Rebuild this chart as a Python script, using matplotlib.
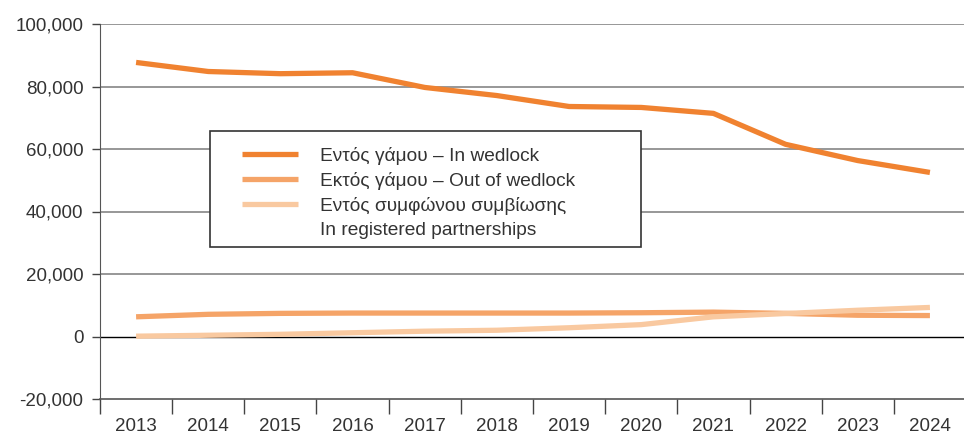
import numpy as np
import matplotlib.pyplot as plt
from matplotlib.lines import Line2D
from matplotlib.patches import Rectangle

plt.rcParams['font.family'] = ['Liberation Sans', 'DejaVu Sans']

years = ['2013', '2014', '2015', '2016', '2017', '2018', '2019', '2020',
         '2021', '2022', '2023', '2024']
in_wedlock = [87700, 84800, 84100, 84400, 79700, 77100, 73600, 73300,
              71400, 61500, 56300, 52500]
out_wedlock = [6300, 7100, 7400, 7500, 7500, 7500, 7500, 7600,
               7800, 7400, 6800, 6700]
partnership = [100, 400, 700, 1200, 1700, 2000, 2800, 3800,
               6300, 7350, 8400, 9300]

labels = ['Εντός γάμου – In wedlock',
          'Εκτός γάμου – Out of wedlock',
          'Εντός συμφώνου συμβίωσης',
          'In registered partnerships']
colors = ['#F08230', '#F5A468', '#F9C9A0']

fig = plt.figure(figsize=(9.64, 4.34), dpi=100)
ax = fig.add_axes([100 / 964, 1 - 399 / 434, 866 / 964, 375 / 434])

x = np.arange(len(years))
ax.plot(x, in_wedlock, color=colors[0], lw=3.8, solid_capstyle='butt', label=labels[0], zorder=3)
ax.plot(x, out_wedlock, color=colors[1], lw=3.8, solid_capstyle='butt', label=labels[1], zorder=3)
ax.plot(x, partnership, color=colors[2], lw=3.8, solid_capstyle='butt', label=labels[2], zorder=3)

ax.set_xlim(-0.5, len(years) - 0.5)
ax.set_ylim(-20000, 100000)
yt = np.arange(-20000, 100001, 20000)
ax.set_yticks(yt)
ax.set_yticklabels([f'{v:,}' for v in yt])
for v in yt[1:]:
    ax.axhline(v, color='black' if v == 0 else '#7a7a7a', lw=1.0 if v == 0 else 1.1, zorder=1)

ax.set_xticks(x)
ax.set_xticklabels(years)
ax.set_xticks(np.arange(-0.5, len(years)), minor=True)
ax.tick_params(axis='x', which='major', length=0, pad=14, labelsize=13.5, labelcolor='#333333')
ax.tick_params(axis='x', which='minor', length=11, width=1, color='#444444')
ax.tick_params(axis='y', length=6, width=1, color='#444444', pad=6, labelsize=13.5, labelcolor='#333333')

for s in ['top', 'right']:
    ax.spines[s].set_visible(False)
ax.spines['left'].set_color('#555555')
ax.spines['bottom'].set_color('#555555')
ax.spines['bottom'].set_linewidth(1.2)

# legend frame drawn separately (box is wider than its content)
def to_ax(px, py):
    return (px - 100) / 866, (399 - py) / 375

fx0, fy0 = to_ax(210, 247)
fx1, fy1 = to_ax(641, 131)
ax.add_patch(Rectangle((fx0, fy0), fx1 - fx0, fy1 - fy0, transform=ax.transAxes,
                       facecolor='white', edgecolor='#333333', lw=1.2, zorder=4))

handles = ax.get_lines()[:3] + [Line2D([], [], color='none')]
leg = ax.legend(handles, labels, loc='upper left', bbox_to_anchor=to_ax(242, 147),
                frameon=False, fontsize=13.8,
                handlelength=2.9, handletextpad=1.15, labelspacing=0.36,
                borderpad=0, borderaxespad=0, labelcolor='#333333')
leg.set_zorder(5)

fig.savefig('out.png', dpi=100)
